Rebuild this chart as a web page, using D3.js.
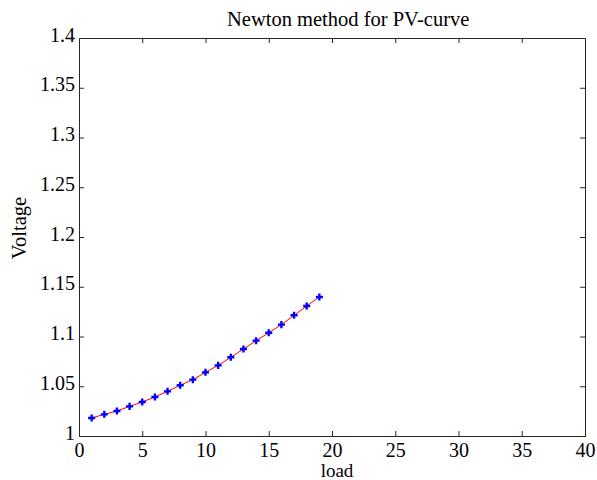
<!DOCTYPE html>
<html>
<head>
<meta charset="utf-8">
<script src="https://cdn.jsdelivr.net/npm/d3@7"></script>
<style>
  body { margin: 0; background: #fff; }
  svg { display: block; }
  text { font-family: "Liberation Serif", "Times New Roman", serif; fill: #000; }
</style>
</head>
<body>
<div id="chart"></div>
<script>
/*
  Newton method PV-curve
*/

var loads = [1, 2, 3, 4, 5, 6, 7, 8, 9, 10, 11, 12, 13, 14, 15, 16, 17, 18, 19],
    voltage = [1.0181, 1.0218, 1.0251, 1.0298, 1.0342, 1.0392, 1.0449, 1.0510, 1.0566, 1.0640,
               1.0710, 1.0791, 1.0874, 1.0958, 1.1038, 1.1119, 1.1213, 1.1307, 1.1397],
    xTicks = [0, 5, 10, 15, 20, 25, 30, 35, 40],
    yTicks = [1, 1.05, 1.1, 1.15, 1.2, 1.25, 1.3, 1.35, 1.4],
    titleText = "Newton method for PV-curve",
    xLabel = "load",
    yLabel = "Voltage";

var margin = {top: 38, right: 12, bottom: 44, left: 79},
    width = 597 - margin.left - margin.right,
    height = 480 - margin.top - margin.bottom;

var x = d3.scaleLinear().domain([0, 40]).range([0, width]),
    y = d3.scaleLinear().domain([1, 1.4]).range([height, 0]);

var svg = d3.select("#chart").append("svg")
    .attr("width", 597)
    .attr("height", 480);

var g = svg.append("g")
    .attr("transform", "translate(" + margin.left + "," + margin.top + ")");

// axes, ticks pointing inward on all four sides
var bottom = g.append("g")
    .attr("transform", "translate(0," + height + ")")
    .call(d3.axisBottom(x).tickValues(xTicks).tickSizeInner(-5).tickSizeOuter(0));
bottom.selectAll("text")
    .attr("y", 21)
    .attr("dy", 0)
    .style("font-size", "20px");

var left = g.append("g")
    .call(d3.axisLeft(y).tickValues(yTicks).tickSizeInner(-5).tickSizeOuter(0)
      .tickFormat(function(d) { return String(+d.toFixed(2)); }));
left.selectAll("text")
    .attr("x", -4)
    .attr("dy", 0)
    .attr("y", 3)
    .style("font-size", "20px");

g.append("g")
    .call(d3.axisTop(x).tickValues(xTicks).tickSizeInner(-5).tickSizeOuter(0).tickFormat(""));

g.append("g")
    .attr("transform", "translate(" + width + ",0)")
    .call(d3.axisRight(y).tickValues(yTicks).tickSizeInner(-5).tickSizeOuter(0).tickFormat(""));

g.selectAll(".domain").remove();
g.selectAll(".tick line").attr("stroke", "#262626");

g.append("rect")
    .attr("x", 0.5)
    .attr("y", 0.5)
    .attr("width", width)
    .attr("height", height)
    .attr("fill", "none")
    .attr("stroke", "#262626");

// the curve
var pts = loads.map(function(d, i) { return {x: d, y: voltage[i]}; });

g.append("path")
    .datum(pts)
    .attr("fill", "none")
    .attr("stroke", "#ff0000")
    .attr("stroke-width", 1)
    .attr("d", d3.line()
      .x(function(d) { return x(d.x); })
      .y(function(d) { return y(d.y); }));

g.selectAll(".pt")
    .data(pts)
  .enter().append("path")
    .attr("class", "pt")
    .attr("transform", function(d) { return "translate(" + x(d.x) + "," + y(d.y) + ")"; })
    .attr("d", d3.symbol().type(d3.symbolCross).size(28))
    .attr("fill", "#0000ff");

// labels
svg.append("text")
    .attr("x", 227)
    .attr("y", 26)
    .style("font-size", "20.5px")
    .text(titleText);

svg.append("text")
    .attr("x", 337)
    .attr("y", 476.5)
    .style("text-anchor", "middle")
    .style("font-size", "19px")
    .text(xLabel);

svg.append("text")
    .attr("transform", "translate(25.5,228) rotate(-90)")
    .style("text-anchor", "middle")
    .style("font-size", "20.5px")
    .text(yLabel);
</script>
</body>
</html>
